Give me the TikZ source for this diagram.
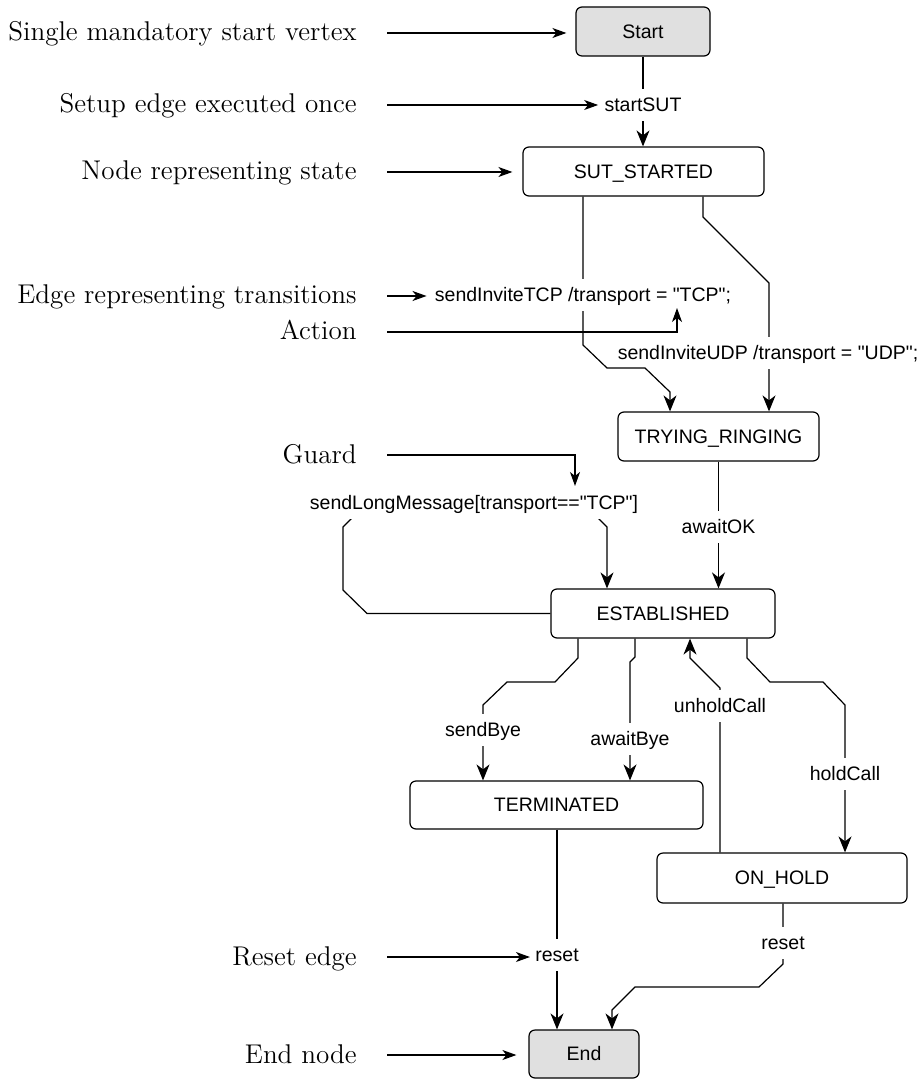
\documentclass[tikz,border=0pt]{standalone}
\usepackage{fontspec}
\newfontfamily\sansf{Liberation Sans}
\usetikzlibrary{arrows.meta,calc}
\definecolor{startgray}{RGB}{224,224,224}
\newcommand\lblfont{\sansf\fontsize{9.75}{11.5}\selectfont}
\newcommand\notefont{\fontsize{13.55}{16}\selectfont}

\begin{document}
\begin{tikzpicture}[x=0.5pt,y=-0.5pt,
  state/.style={draw, line width=0.6pt, rounded corners=3pt, font=\lblfont,
    text height=6.9pt, text depth=0pt, inner sep=0pt},
  trans/.style={line width=0.6pt, -{Stealth[length=8pt,width=6.5pt,inset=2.5pt]}},
  elab/.style={fill=white, font=\lblfont, text height=6.9pt, text depth=0pt,
    inner xsep=2.5pt, inner ysep=4.5pt},
  note/.style={font=\notefont, anchor=east, inner sep=0pt, text height=9pt, text depth=1pt},
  annot/.style={line width=0.6pt, shorten <=15pt,
    -{Stealth[length=7pt,width=5pt,inset=2pt]}}]

% page frame
\fill[white] (0,0) rectangle (922,1079);
\useasboundingbox (0,0) rectangle (922,1079);

% states
\node[state, fill=startgray, minimum width=67pt, minimum height=24.5pt] (start) at (643,31.5) {Start};
\node[state, minimum width=120.5pt, minimum height=24.5pt] (sut) at (643.5,171.5) {SUT\_STARTED};
\node[state, minimum width=100.5pt, minimum height=24.5pt] (trying) at (718.5,436.5) {TRYING\_RINGING};
\node[state, minimum width=112pt, minimum height=24.5pt] (est) at (663,613.5) {ESTABLISHED};
\node[state, minimum width=146.5pt, minimum height=24pt] (term) at (556.5,805) {TERMINATED};
\node[state, minimum width=125pt, minimum height=25pt] (hold) at (782,878) {ON\_HOLD};
\node[state, fill=startgray, minimum width=55pt, minimum height=24pt] (end) at (584,1054) {End};

% transitions
\draw[trans] (start.south) -- (start.south |- sut.north);
\node[elab] (lstart) at (643,105) {startSUT};

\draw[trans] ($(sut.south)+(59.5,0)$) -- (703,217) -- (769,283) -- ($(trying.north)+(50.5,0)$);
\node[elab] (ludp) at (768,353) {sendInviteUDP /transport = "UDP";};

\draw[trans] ($(sut.south)+(-60.5,0)$) -- (583,345) -- (607,368) -- (645,368) -- (670,392)
  -- ($(trying.north)+(-48.5,0)$);
\node[elab] (ltcp) at (583,295) {sendInviteTCP /transport = "TCP";};

\draw[trans] (trying.south) -- (trying.south |- est.north);
\node[elab] (lok) at (718.5,527) {awaitOK};

\draw[trans] (est.west) -- (367,613.5) -- (343,590) -- (343,527) -- (367,503) -- (583,503)
  -- (607,527) -- ($(est.north)+(-56,0)$);
\node[elab] (llong) at (474,503) {sendLongMessage[transport=="TCP"]};

\draw[trans] ($(est.south)+(-85,0)$) -- (578,658) -- (555,682) -- (507,682) -- (483,705)
  -- ($(term.north)+(-73.5,0)$);
\node[elab] (lsbye) at (483,730) {sendBye};

\draw[trans] ($(est.south)+(-28,0)$) -- (635,657) -- (630,662) -- ($(term.north)+(73.5,0)$);
\node[elab] (labye) at (630,739) {awaitBye};

\draw[trans] ($(hold.north)+(-62,0)$) -- (720,688) -- (690,658) -- ($(est.south)+(27,0)$);
\node[elab] (lunhold) at (720,706) {unholdCall};

\draw[trans] ($(est.south)+(84,0)$) -- (747,658) -- (770,682) -- (823,682) -- (845,705)
  -- ($(hold.north)+(63,0)$);
\node[elab] (lhold) at (845,774) {holdCall};

\draw[trans] ($(term.south)+(0.5,0)$) -- ($(end.north)+(-27,0)$);
\node[elab] (lreset1) at (557,955) {reset};

\draw[trans] ($(hold.south)+(1,0)$) -- (783,964) -- (759,987) -- (635,987) -- (612,1010)
  -- ($(end.north)+(28,0)$);
\node[elab] (lreset2) at (783,943) {reset};

% explanatory notes
\node[note] (n1) at (357,33) {Single mandatory start vertex};
\node[note] (n2) at (357,105) {Setup edge executed once};
\node[note] (n3) at (357,172) {Node representing state};
\node[note] (n4) at (357,296) {Edge representing transitions};
\node[note] (n5) at (357,332) {Action};
\node[note] (n6) at (357,455) {Guard};
\node[note] (n7) at (357,957) {Reset edge};
\node[note] (n8) at (357,1055) {End node};

\coordinate (acttip) at (677,308);
\coordinate (guardtip) at (575,486);

\draw[annot, shorten >=4.5pt] (n1.east) -- (n1.east -| start.west);
\draw[annot, shorten >=0.5pt] (n2.east) -- (n2.east -| lstart.west);
\draw[annot, shorten >=5pt] (n3.east) -- (n3.east -| sut.west);
\draw[annot, shorten >=1.5pt] (n4.east) -- (n4.east -| ltcp.west);
\draw[annot] (n5.east) -- (n5.east -| acttip) -- (acttip);
\draw[annot] (n6.east) -- (n6.east -| guardtip) -- (guardtip);
\draw[annot] (n7.east) -- (n7.east -| lreset1.west);
\draw[annot, shorten >=6pt] (n8.east) -- (n8.east -| end.west);
\end{tikzpicture}
\end{document}
